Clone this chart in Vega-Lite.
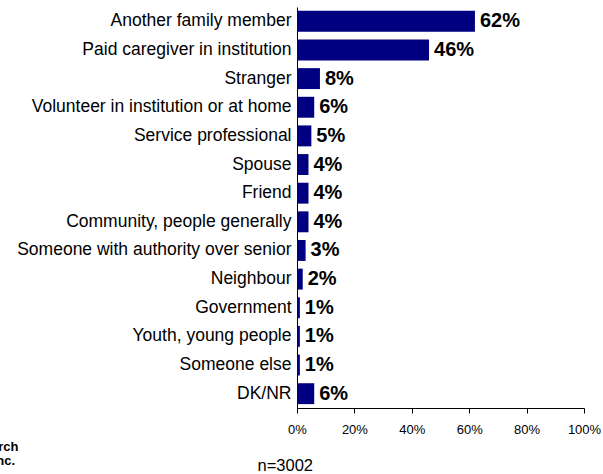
{
  "$schema": "https://vega.github.io/schema/vega-lite/v6.json",
  "width": 287,
  "height": 401,
  "autosize": "none",
  "padding": {"left": 297, "top": 7, "right": 19, "bottom": 66},
  "background": "white",
  "config": {
    "font": "Liberation Sans",
    "view": {"stroke": null}
  },
  "title": {
    "text": "Associates Inc.",
    "orient": "top",
    "anchor": "start",
    "frame": "group",
    "align": "right",
    "baseline": "alphabetic",
    "offset": 0,
    "dx": -282,
    "dy": 471,
    "fontSize": 13,
    "fontWeight": "bold",
    "color": "#000",
    "font": "Liberation Sans"
  },
  "data": {
    "values": [
      {"category": "Another family member", "share": 0.62},
      {"category": "Paid caregiver in institution", "share": 0.46},
      {"category": "Stranger", "share": 0.08},
      {"category": "Volunteer in institution or at home", "share": 0.06},
      {"category": "Service professional", "share": 0.05},
      {"category": "Spouse", "share": 0.04},
      {"category": "Friend", "share": 0.04},
      {"category": "Community, people generally", "share": 0.04},
      {"category": "Someone with authority over senior", "share": 0.03},
      {"category": "Neighbour", "share": 0.02},
      {"category": "Government", "share": 0.01},
      {"category": "Youth, young people", "share": 0.01},
      {"category": "Someone else", "share": 0.01},
      {"category": "DK/NR", "share": 0.06}
    ]
  },
  "encoding": {
    "y": {
      "field": "category",
      "type": "nominal",
      "sort": null,
      "scale": {"paddingInner": 0.27, "paddingOuter": 0.135},
      "axis": {
        "title": "EKOS Research",
        "titleAngle": 0,
        "titleX": -279,
        "titleY": 443,
        "titleAlign": "right",
        "titleBaseline": "alphabetic",
        "titleFontSize": 13,
        "titleFontWeight": "bold",
        "titleColor": "#000",
        "ticks": false,
        "tickSize": 0,
        "labelPadding": 6,
        "labelFontSize": 17.5,
        "labelColor": "#000",
        "labelLimit": 400,
        "domainColor": "#000",
        "domainWidth": 1
      }
    },
    "x": {
      "field": "share",
      "type": "quantitative",
      "scale": {"domain": [0, 1], "nice": false},
      "axis": {
        "format": ".0%",
        "values": [0, 0.2, 0.4, 0.6, 0.8, 1],
        "grid": false,
        "tickSize": 5,
        "tickColor": "#000",
        "domainColor": "#000",
        "labelFontSize": 13,
        "labelColor": "#000",
        "labelPadding": 10,
        "labelFlush": false,
        "title": "n=3002",
        "titleFontSize": 16.5,
        "titleFontWeight": "normal",
        "titleColor": "#000",
        "titleAnchor": "start",
        "titleAlign": "left",
        "titleBaseline": "alphabetic",
        "titleX": -40,
        "titleY": 62
      }
    }
  },
  "layer": [
    {"mark": {"type": "bar", "color": "#000080"}},
    {
      "mark": {
        "type": "text",
        "align": "left",
        "baseline": "middle",
        "dx": 5,
        "fontSize": 20,
        "fontWeight": "bold",
        "color": "#000"
      },
      "encoding": {"text": {"field": "share", "type": "quantitative", "format": ".0%"}}
    }
  ]
}
